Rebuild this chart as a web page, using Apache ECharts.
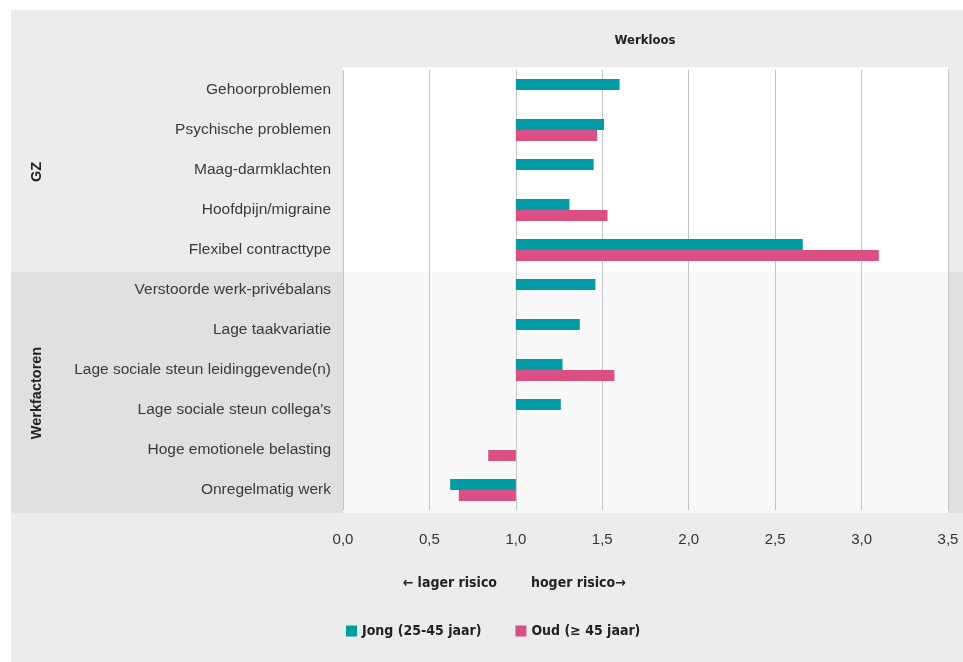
<!DOCTYPE html>
<html>
<head>
<meta charset="utf-8">
<script src="https://cdn.jsdelivr.net/npm/echarts@6/dist/echarts.min.js"></script>
<style>
html,body{margin:0;padding:0;background:#ffffff;}
#c{width:963px;height:662px;}
</style>
</head>
<body>
<div id="c"></div>
<script>
const categories = [
  'Gehoorproblemen',
  'Psychische problemen',
  'Maag-darmklachten',
  'Hoofdpijn/migraine',
  'Flexibel contracttype',
  'Verstoorde werk-privébalans',
  'Lage taakvariatie',
  'Lage sociale steun leidinggevende(n)',
  "Lage sociale steun collega's",
  'Hoge emotionele belasting',
  'Onregelmatig werk'
];
const jong = [1.60, 1.51, 1.45, 1.31, 2.66, 1.46, 1.37, 1.27, 1.26, null, 0.62];
const oud  = [null, 1.47, null, 1.53, 3.10, null, null, 1.57, null, 0.84, 0.67];
const seriesNames = ['Jong (25-45 jaar)', 'Oud (\u2265 45 jaar)'];
const groupLabels = ['GZ', 'Werkfactoren'];
const panelTitle = 'Werkloos';
const riskLabels = ['\u2190 lager risico', 'hoger risico\u2192'];
const baseline = 1;

const COND = '"Liberation Sans Narrow","DejaVu Sans Condensed","Liberation Sans",sans-serif';
const SANS = '"Liberation Sans","Noto Sans",sans-serif';

function toItems(arr){
  const out = [];
  arr.forEach((v, i) => { if (v !== null) out.push([v, i]); });
  return out;
}
function makeRender(side){
  return function(params, api){
    const v = api.value(0), c = api.value(1);
    const p1 = api.coord([baseline, c]);
    const p2 = api.coord([v, c]);
    const bw = 11;
    const y = side < 0 ? p1[1] - bw : p1[1];
    return {
      type: 'rect',
      shape: { x: Math.min(p1[0], p2[0]), y: y, width: Math.abs(p2[0] - p1[0]), height: bw },
      style: api.style()
    };
  };
}

const chart = echarts.init(document.getElementById('c'), null, {renderer: 'canvas'});
chart.setOption({
  animation: false,
  backgroundColor: 'transparent',
  grid: { left: 343, right: 15, top: 70, bottom: 152, containLabel: false },
  xAxis: {
    type: 'value', min: 0, max: 3.5, interval: 0.5,
    axisLine: { show: false }, axisTick: { show: false },
    splitLine: { show: true, lineStyle: { color: '#c4c4c4', width: 1 } },
    axisLabel: {
      margin: 22, color: '#333', fontFamily: SANS, fontSize: 15,
      formatter: v => v.toFixed(1).replace('.', ',')
    }
  },
  yAxis: {
    type: 'category', data: categories, inverse: true,
    axisLine: { show: false }, axisTick: { show: false },
    splitLine: { show: false },
    axisLabel: { margin: 12, color: '#3a3a3a', fontFamily: SANS, fontSize: 15.5 }
  },
  legend: {
    data: seriesNames, left: 341, top: 619, icon: 'rect',
    itemWidth: 11, itemHeight: 11, itemGap: 34,
    textStyle: { fontFamily: COND, fontWeight: 'bold', fontSize: 14, color: '#222' }
  },
  graphic: [
    { type: 'rect', z: -10, shape: { x: 11, y: 10, width: 952, height: 652 }, style: { fill: '#ebecec' } },
    { type: 'rect', z: -9, shape: { x: 11, y: 272, width: 952, height: 241 }, style: { fill: '#dfe0df' } },
    { type: 'rect', z: -8, shape: { x: 343, y: 67, width: 605, height: 205 }, style: { fill: '#ffffff' } },
    { type: 'rect', z: -8, shape: { x: 343, y: 272, width: 605, height: 241 }, style: { fill: '#f8f8f8' } },
    { type: 'text', z: 100, x: 645, y: 41, style: { text: panelTitle, fill: '#222', font: 'bold 13px ' + COND, textAlign: 'center', textVerticalAlign: 'middle' } },
    { type: 'text', z: 100, x: 37, y: 172, rotation: Math.PI / 2, style: { text: groupLabels[0], fill: '#222', font: 'bold 14.5px ' + SANS, textAlign: 'center', textVerticalAlign: 'middle' } },
    { type: 'text', z: 100, x: 37, y: 393, rotation: Math.PI / 2, style: { text: groupLabels[1], fill: '#222', font: 'bold 14.5px ' + SANS, textAlign: 'center', textVerticalAlign: 'middle' } },
    { type: 'text', z: 100, x: 497, y: 583, style: { text: riskLabels[0], fill: '#222', font: 'bold 14px ' + COND, textAlign: 'right', textVerticalAlign: 'middle' } },
    { type: 'text', z: 100, x: 531, y: 583, style: { text: riskLabels[1], fill: '#222', font: 'bold 14px ' + COND, textAlign: 'left', textVerticalAlign: 'middle' } }
  ],
  series: [
    { name: seriesNames[0], type: 'custom', renderItem: makeRender(-1), clip: false,
      itemStyle: { color: '#009ca6' }, encode: { x: 0, y: 1 }, data: toItems(jong) },
    { name: seriesNames[1], type: 'custom', renderItem: makeRender(1), clip: false,
      itemStyle: { color: '#db5083' }, encode: { x: 0, y: 1 }, data: toItems(oud) }
  ]
});
</script>
</body>
</html>
